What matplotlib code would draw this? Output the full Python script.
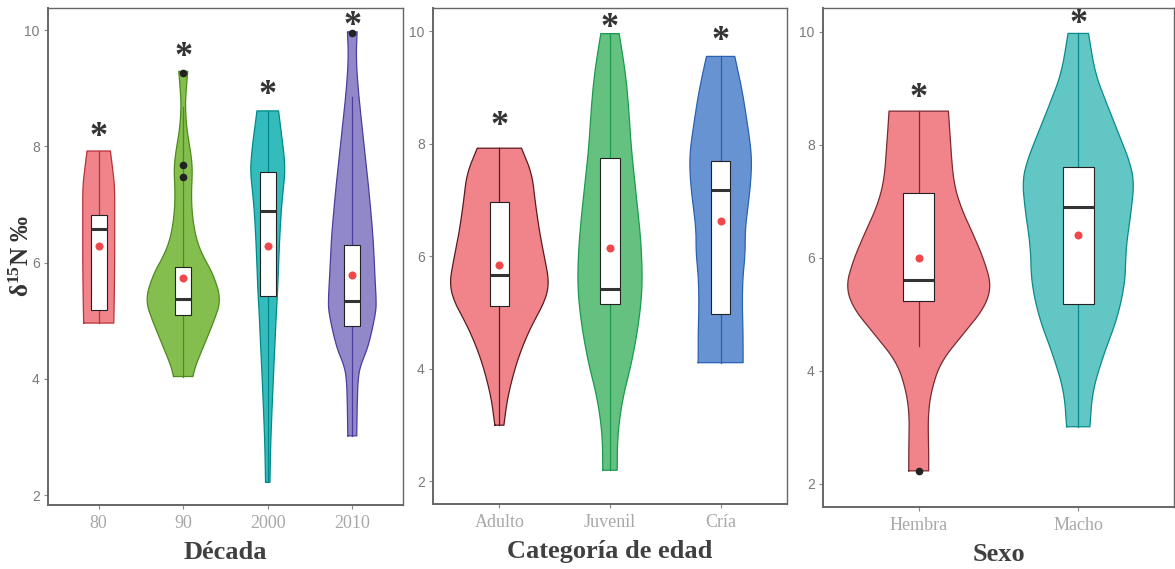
import numpy as np
import matplotlib
matplotlib.use("Agg")
import matplotlib.pyplot as plt
from matplotlib.patches import Rectangle
from matplotlib.transforms import offset_copy

plt.rcParams["mathtext.fontset"] = "custom"
plt.rcParams["mathtext.rm"] = "Liberation Serif:bold"
plt.rcParams["mathtext.it"] = "Liberation Serif:bold"
plt.rcParams["mathtext.bf"] = "Liberation Serif:bold"

# ---- data ----
# panel 1: decada
dec_labels = ["80", "90", "2000", "2010"]
dec_q1 = [5.18, 5.10, 5.43, 4.91]
dec_med = [6.57, 5.38, 6.89, 5.34]
dec_q3 = [6.82, 5.93, 7.56, 6.30]
dec_lo = [4.96, 4.04, 2.22, 3.02]
dec_hi = [7.92, 8.68, 8.61, 8.85]
dec_mean = [6.28, 5.73, 6.29, 5.79]
dec_out = [[], [9.27, 7.68, 7.48], [], [9.95]]
dec_star = [8.25, 9.63, 8.97, 10.16]
# violin profiles: y levels and half widths (x units)
dec_vy = [
    [4.96, 5.3, 6.0, 6.8, 7.3, 7.6, 7.92],
    [4.04, 4.21, 4.55, 4.96, 5.36, 5.8, 6.1, 6.4, 6.8, 7.2, 7.6, 7.9, 8.3, 8.7, 9.0, 9.29],
    [2.22, 2.83, 3.69, 4.55, 5.36, 5.53, 6.2, 6.79, 7.2, 7.59, 8.0, 8.31, 8.61],
    [3.02, 3.52, 4.04, 4.27, 4.55, 5.13, 5.36, 5.8, 6.39, 7.19, 7.99, 8.97, 9.54, 9.97],
]
dec_vw = [
    [0.178, 0.183, 0.189, 0.189, 0.189, 0.166, 0.138],
    [0.115, 0.142, 0.237, 0.355, 0.450, 0.355, 0.237, 0.154, 0.107, 0.095, 0.110, 0.089, 0.041, 0.024, 0.036, 0.053],
    [0.026, 0.033, 0.056, 0.083, 0.109, 0.118, 0.134, 0.154, 0.178, 0.207, 0.183, 0.154, 0.128],
    [0.053, 0.057, 0.069, 0.107, 0.189, 0.278, 0.284, 0.266, 0.249, 0.201, 0.142, 0.069, 0.045, 0.057],
]
dec_fill = ["#F0848A", "#84BE4E", "#33BCBB", "#9088C9"]
dec_edge = ["#B8323C", "#4E8A1E", "#00898A", "#4B3C9E"]

# panel 2: categoria de edad
edad_labels = ["Adulto", "Juvenil", "Cría"]
edad_q1 = [5.11, 5.15, 4.98]
edad_med = [5.67, 5.42, 7.18]
edad_q3 = [6.96, 7.75, 7.70]
edad_lo = [3.0, 2.2, 4.11]
edad_hi = [7.92, 9.95, 9.55]
edad_mean = [5.84, 6.14, 6.62]
edad_out = [[], [], []]
edad_star = [8.42, 10.16, 9.92]
edad_vy = [
    [3.0, 3.47, 3.98, 4.37, 4.76, 5.21, 5.53, 5.91, 6.36, 6.94, 7.46, 7.92],
    [2.2, 2.82, 3.47, 4.11, 4.76, 5.40, 6.04, 6.69, 7.33, 7.97, 8.62, 9.26, 9.955],
    [4.11, 4.63, 5.08, 5.59, 6.04, 6.49, 7.01, 7.46, 7.84, 8.29, 8.94, 9.55],
]
edad_vw = [
    [0.041, 0.072, 0.136, 0.203, 0.289, 0.414, 0.449, 0.416, 0.369, 0.325, 0.296, 0.200],
    [0.065, 0.068, 0.113, 0.196, 0.256, 0.292, 0.287, 0.260, 0.224, 0.190, 0.170, 0.140, 0.083],
    [0.203, 0.203, 0.196, 0.199, 0.222, 0.222, 0.256, 0.278, 0.278, 0.247, 0.196, 0.128],
]
edad_fill = ["#F0848A", "#64C180", "#6893D2"]
edad_edge = ["#5A1A1E", "#1A9A50", "#2A62B0"]

# panel 3: sexo
sexo_labels = ["Hembra", "Macho"]
sexo_q1 = [5.24, 5.18]
sexo_med = [5.61, 6.90]
sexo_q3 = [7.15, 7.60]
sexo_lo = [4.44, 3.01]
sexo_hi = [8.60, 9.97]
sexo_mean = [5.99, 6.41]
sexo_out = [[2.22], []]
sexo_star = [8.93, 10.24]
sexo_vy = [
    [2.23, 2.61, 3.19, 3.64, 4.15, 4.66, 5.11, 5.50, 5.95, 6.40, 6.91, 7.36, 8.0, 8.595],
    [3.01, 3.64, 4.28, 4.92, 5.56, 6.20, 6.84, 7.36, 7.74, 8.26, 8.77, 9.28, 9.97],
]
sexo_vw = [
    [0.0625, 0.0625, 0.058, 0.078, 0.136, 0.281, 0.411, 0.456, 0.411, 0.344, 0.261, 0.217, 0.200, 0.186],
    [0.073, 0.089, 0.158, 0.244, 0.294, 0.299, 0.333, 0.350, 0.318, 0.244, 0.172, 0.104, 0.064],
]
sexo_fill = ["#F0848A", "#62C6C4"]
sexo_edge = ["#7A2A30", "#0A8A8A"]

SERIF = "Liberation Serif"
SANS = "Liberation Sans"


def chaikin(a, b, n=3):
    # corner cutting, just to round the outline a bit (ends kept)
    a = np.asarray(a, float)
    b = np.asarray(b, float)
    for _ in range(n):
        na = [a[0]]
        nb = [b[0]]
        for k in range(len(a) - 1):
            na += [0.75 * a[k] + 0.25 * a[k + 1], 0.25 * a[k] + 0.75 * a[k + 1]]
            nb += [0.75 * b[k] + 0.25 * b[k + 1], 0.25 * b[k] + 0.75 * b[k + 1]]
        na.append(a[-1])
        nb.append(b[-1])
        a, b = np.array(na), np.array(nb)
    return a, b


def draw_panel(ax, labels, q1, med, q3, lo, hi, mean, out, star, vy, vw,
               fills, edges, xlabel, ylim, box_w):
    star_tr = offset_copy(ax.transData, fig=ax.figure, x=0, y=-6, units="dots")
    for i in range(len(labels)):
        x = i + 1
        y, w = chaikin(vy[i], vw[i])
        ax.fill_betweenx(y, x - w, x + w, facecolor=fills[i], edgecolor="none", zorder=1)
        ax.plot(np.concatenate([x - w, (x + w)[::-1], [x - w[0]]]),
                np.concatenate([y, y[::-1], [y[0]]]),
                color=edges[i], lw=0.9, zorder=2)
        ax.plot([x, x], [lo[i], hi[i]], color=edges[i], lw=0.9, zorder=2)
        ax.add_patch(Rectangle((x - box_w / 2, q1[i]), box_w, q3[i] - q1[i],
                               facecolor="white", edgecolor="#222222", lw=0.8, zorder=3))
        ax.plot([x - box_w / 2, x + box_w / 2], [med[i], med[i]], color="#333333",
                lw=2.2, solid_capstyle="butt", zorder=4)
        if out[i]:
            ax.plot([x] * len(out[i]), out[i], "o", color="#222222", ms=4.5, zorder=5)
        ax.plot(x, mean[i], "o", color="#F0484A", ms=5.8, mec="none", zorder=5)
        ax.text(x, star[i], "*", ha="center", va="center", fontsize=26,
                fontfamily=SERIF, fontweight="bold", color="#333333", zorder=6,
                transform=star_tr)

    ax.set_xlim(0.4, len(labels) + 0.6)
    ax.set_ylim(*ylim)
    ax.set_xticks(range(1, len(labels) + 1))
    ax.set_xticklabels(labels, fontfamily=SERIF, fontsize=13, color="#A8A8A8")
    ax.set_yticks([2, 4, 6, 8, 10])
    ax.set_yticklabels(["2", "4", "6", "8", "10"], fontfamily=SANS, fontsize=10,
                       color="#7A7A7A")
    ax.tick_params(axis="both", length=3, width=0.8, color="#888888", pad=3)
    ax.tick_params(axis="x", pad=4)
    for s in ax.spines.values():
        s.set_color("#666666")
        s.set_linewidth(1.0)
    ax.spines["left"].set_linewidth(1.4)
    ax.spines["bottom"].set_linewidth(1.4)
    ax.set_xlabel(xlabel, fontfamily=SERIF, fontweight="bold", fontsize=19,
                  color="#404040", labelpad=7)


fig = plt.figure(figsize=(11.75, 5.69), dpi=100)
ax1 = fig.add_axes([48 / 1175, 1 - 505 / 569, 355 / 1175, 497 / 569])
ax2 = fig.add_axes([433 / 1175, 1 - 504 / 569, 354 / 1175, 496 / 569])
ax3 = fig.add_axes([823 / 1175, 1 - 507 / 569, 351 / 1175, 499 / 569])

draw_panel(ax1, dec_labels, dec_q1, dec_med, dec_q3, dec_lo, dec_hi, dec_mean,
           dec_out, dec_star, dec_vy, dec_vw, dec_fill, dec_edge, "Década",
           (1.83, 10.38), 0.19)
draw_panel(ax2, edad_labels, edad_q1, edad_med, edad_q3, edad_lo, edad_hi, edad_mean,
           edad_out, edad_star, edad_vy, edad_vw, edad_fill, edad_edge,
           "Categoría de edad", (1.60, 10.41), 0.176)
draw_panel(ax3, sexo_labels, sexo_q1, sexo_med, sexo_q3, sexo_lo, sexo_hi, sexo_mean,
           sexo_out, sexo_star, sexo_vy, sexo_vw, sexo_fill, sexo_edge, "Sexo",
           (1.59, 10.42), 0.195)

fig.text(22 / 1175, 1 - 256 / 569, "δ$^{15}$N ‰", rotation=90, ha="center",
         va="center", fontfamily=SERIF, fontweight="bold", fontsize=18,
         color="#333333")

fig.savefig("out.png", dpi=100)
